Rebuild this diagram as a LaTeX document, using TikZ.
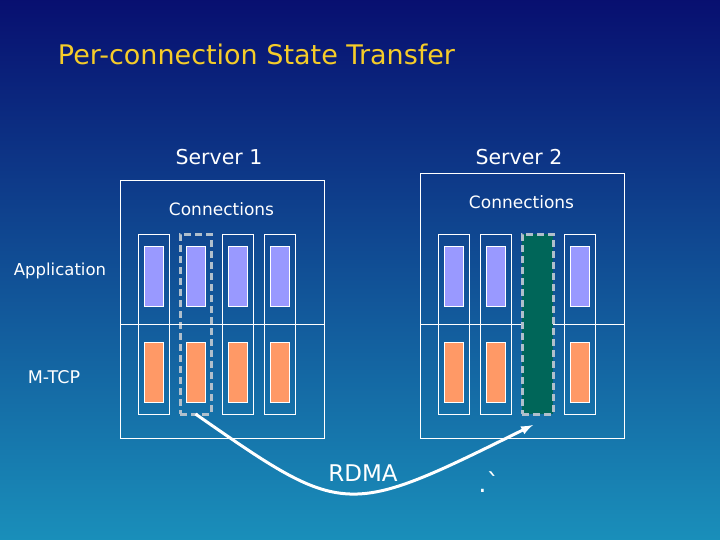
\documentclass[tikz,border=0pt]{standalone}
\usepackage{fontspec}
\setmainfont{DejaVu Sans}
\usetikzlibrary{positioning}
\definecolor{topclr}{rgb}{0.03, 0.06, 0.44}
\definecolor{midclr}{rgb}{0.08, 0.37, 0.59}
\definecolor{botclr}{rgb}{0.1, 0.56, 0.73}
\definecolor{titleclr}{rgb}{0.96, 0.8, 0.16}
\definecolor{appclr}{rgb}{0.6, 0.6, 1}
\definecolor{tcpclr}{rgb}{1, 0.6, 0.4}
\definecolor{movedclr}{rgb}{0, 0.4, 0.35}
\definecolor{dashclr}{rgb}{0.69, 0.75, 0.8}
\tikzset{ %
  ,>=latex
  ,every node/.style={text=white, inner sep=0, outer sep=0}
  ,server/.style={draw=white, line width=1pt, minimum width=204pt}
  ,conn/.style={draw=white, line width=1pt, minimum width=31pt, minimum height=180pt, node distance=11pt}
  ,moved/.style={draw=dashclr, line width=3pt, dash pattern=on 7pt off 4pt, minimum width=31pt, minimum height=180pt, node distance=11pt}
  ,app/.style={draw=white, line width=1pt, fill=appclr, minimum width=19pt, minimum height=60pt}
  ,tcp/.style={draw=white, line width=1pt, fill=tcpclr, minimum width=19pt, minimum height=60pt}
  ,lbl/.style={anchor=base, font=\fontsize{17}{20}\selectfont}
}
\begin{document}
\begin{tikzpicture}[x=1pt, y=-1pt]
      \useasboundingbox (0,0) rectangle (720,540);
      \shade[top color=topclr, middle color=midclr, bottom color=botclr] (0,0) rectangle (720,540);
      % title
      \node[anchor=base, text=titleclr, font=\fontsize{27}{30}\selectfont] (title) at (256.5,65) {Per-connection State Transfer};
      % servers
      \node[server, minimum height=257pt] (srv1) at (222,309.5) {};
      \node[server, minimum height=264pt] (srv2) at (522,306) {};
      \node[lbl, font=\fontsize{20.5}{24}\selectfont] (srv1name) at (219,165) {Server 1};
      \node[lbl, font=\fontsize{20.5}{24}\selectfont] (srv2name) at (519,165) {Server 2};
      \node[lbl] (conns1) at (221.5,215) {Connections};
      \node[lbl] (conns2) at (521.5,208.5) {Connections};
      \node[lbl, font=\fontsize{16.5}{20}\selectfont] (applbl) at (60,275) {Application};
      \node[lbl, font=\fontsize{17.5}{20}\selectfont] (tcplbl) at (54,383) {M-TCP};
      % server 1 connections
      \draw
      node[conn] (s1c1) at (153.5,324) {}
      node[moved, right=of s1c1] (s1c2) {}
      node[conn, right=of s1c2] (s1c3) {}
      node[conn, right=of s1c3] (s1c4) {};
      \draw [white, line width=1pt] (srv1.west |- s1c1) -- (srv1.east |- s1c1);
      \draw
      node[app, below=12pt of s1c1.north] (s1a1) {}
      node[app, below=12pt of s1c2.north] (s1a2) {}
      node[app, below=12pt of s1c3.north] (s1a3) {}
      node[app, below=12pt of s1c4.north] (s1a4) {}
      node[tcp, above=12pt of s1c1.south] (s1t1) {}
      node[tcp, above=12pt of s1c2.south] (s1t2) {}
      node[tcp, above=12pt of s1c3.south] (s1t3) {}
      node[tcp, above=12pt of s1c4.south] (s1t4) {};
      % server 2 connections
      \draw [white, line width=1pt] (srv2.west |- s1c1) -- (srv2.east |- s1c1);
      \draw
      node[conn] (s2c1) at (453.5,324) {}
      node[conn, right=of s2c1] (s2c2) {}
      node[moved, fill=movedclr, right=of s2c2] (s2c3) {}
      node[conn, right=of s2c3] (s2c4) {};
      \draw
      node[app, below=12pt of s2c1.north] (s2a1) {}
      node[app, below=12pt of s2c2.north] (s2a2) {}
      node[app, below=12pt of s2c4.north] (s2a4) {}
      node[tcp, above=12pt of s2c1.south] (s2t1) {}
      node[tcp, above=12pt of s2c2.south] (s2t2) {}
      node[tcp, above=12pt of s2c4.south] (s2t4) {};
      % transfer
      \coordinate (rdmaend) at (533,425);
      \draw [white, line width=3pt, ->] (s1c2.south) .. controls (345,518) .. (rdmaend);
      \node[lbl, font=\fontsize{23}{26}\selectfont] (rdma) at (363,481.5) {RDMA};
      \node[lbl, font=\fontsize{26}{30}\selectfont] (stray) at (489,492) {.\textasciigrave};
    \end{tikzpicture}
\end{document}
